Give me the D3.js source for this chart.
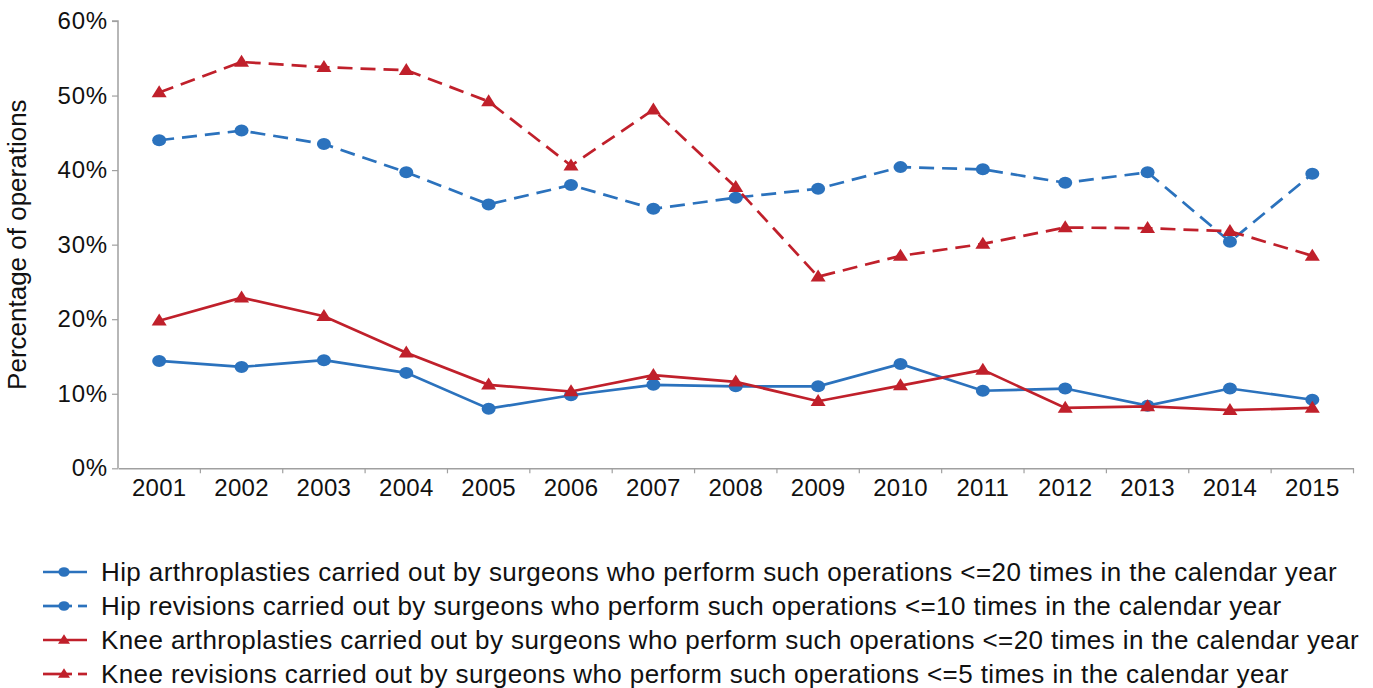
<!DOCTYPE html>
<html>
<head>
<meta charset="utf-8">
<script src="https://cdn.jsdelivr.net/npm/d3@7"></script>
<style>
  body { margin: 0; background: #fff; }
  text { font-family: "Liberation Sans", Arial, sans-serif; fill: #111; }
</style>
</head>
<body>
<div id="chart"></div>
<script>
const years = ['2001', '2002', '2003', '2004', '2005', '2006', '2007', '2008', '2009', '2010', '2011', '2012', '2013', '2014', '2015']
const hipArthro = [14.4, 13.6, 14.5, 12.8, 8.0, 9.8, 11.2, 11.0, 11.0, 14.0, 10.4, 10.7, 8.4, 10.7, 9.2]
const hipRevision = [44.0, 45.3, 43.5, 39.7, 35.4, 38.0, 34.8, 36.3, 37.5, 40.4, 40.1, 38.3, 39.7, 30.4, 39.5]
const kneeArthro = [19.8, 22.9, 20.4, 15.5, 11.2, 10.3, 12.5, 11.6, 9.0, 11.1, 13.2, 8.1, 8.3, 7.8, 8.1]
const kneeRevision = [50.4, 54.5, 53.8, 53.4, 49.2, 40.6, 48.1, 37.7, 25.7, 28.5, 30.1, 32.3, 32.2, 31.8, 28.5]
const yTicks = [0, 10, 20, 30, 40, 50, 60]

const blue = '#2b72bd'
const red = '#c0202b'

const series = [
  { name: 'Hip arthroplasties carried out by surgeons who perform such operations <=20 times in the calendar year', values: hipArthro, color: blue, dashed: false, marker: 'circle' },
  { name: 'Hip revisions carried out by surgeons who perform such operations <=10 times in the calendar year', values: hipRevision, color: blue, dashed: true, marker: 'circle' },
  { name: 'Knee arthroplasties carried out by surgeons who perform such operations <=20 times in the calendar year', values: kneeArthro, color: red, dashed: false, marker: 'triangle' },
  { name: 'Knee revisions carried out by surgeons who perform such operations <=5 times in the calendar year', values: kneeRevision, color: red, dashed: true, marker: 'triangle' }
]

const width = 1373
const height = 688

const svg = d3.select('#chart').append('svg')
  .attr('width', width)
  .attr('height', height)

const x = d3.scaleBand().domain(years).range([118, 1353.5])
const y = d3.scaleLinear().domain([0, 60]).range([468.3, 21])
const axisGrey = '#a0a0a0'

// x axis, labels centred in each year band
const xAxis = svg.append('g')
  .attr('transform', `translate(0,${y(0)})`)
  .call(d3.axisBottom(x).tickSize(0).tickPadding(11))
xAxis.selectAll('text').style('font-size', '24px').style('letter-spacing', '0.3px')
xAxis.select('.domain').attr('stroke', axisGrey).attr('stroke-width', 1.5)
// tick marks sit between the years
svg.append('g').selectAll('line')
  .data(years)
  .enter().append('line')
  .attr('x1', d => x(d) + x.step())
  .attr('x2', d => x(d) + x.step())
  .attr('y1', y(0))
  .attr('y2', y(0) + 5)
  .attr('stroke', axisGrey)
  .attr('stroke-width', 1.2)

const yAxis = svg.append('g')
  .attr('transform', 'translate(118,0)')
  .call(d3.axisLeft(y).tickValues(yTicks).tickFormat(d => d + '%').tickSize(6).tickPadding(4))
yAxis.selectAll('text').style('font-size', '24px').style('letter-spacing', '0.8px')
yAxis.selectAll('line').attr('stroke', axisGrey).attr('stroke-width', 1.2)
yAxis.select('.domain').attr('stroke', axisGrey).attr('stroke-width', 1.5).attr('d', `M-6,${y(60)}H0V${y(0)}`)

svg.append('text')
  .attr('transform', `translate(26,${(y(0) + y(60)) / 2}) rotate(-90)`)
  .attr('text-anchor', 'middle')
  .style('font-size', '26px')
  .text('Percentage of operations')

const line = d3.line()
  .x((d, i) => x(years[i]) + x.bandwidth() / 2)
  .y(d => y(d))

function triPath (w, h) {
  return `M0,${-h * 0.6}L${w / 2},${h * 0.4}L${-w / 2},${h * 0.4}Z`
}

function drawMarker (g, type, color, scale) {
  if (type === 'circle') {
    g.append('ellipse').attr('rx', 7 * scale).attr('ry', 6 * scale).attr('fill', color)
  } else {
    g.append('path').attr('d', triPath(15 * scale, 12 * scale)).attr('fill', color)
  }
}

series.forEach(s => {
  svg.append('path')
    .datum(s.values)
    .attr('d', line)
    .attr('fill', 'none')
    .attr('stroke', s.color)
    .attr('stroke-width', 2.7)
    .attr('stroke-dasharray', s.dashed ? '15,8' : null)
  svg.append('g').selectAll('g')
    .data(s.values)
    .enter().append('g')
    .attr('transform', (d, i) => `translate(${x(years[i]) + x.bandwidth() / 2},${y(d)})`)
    .each(function () { drawMarker(d3.select(this), s.marker, s.color, 1) })
})

// legend
const legend = svg.append('g')
series.forEach((s, i) => {
  const ly = 572 + i * 34
  const g = legend.append('g').attr('transform', `translate(0,${ly})`)
  if (s.dashed) {
    g.append('line').attr('x1', 43).attr('x2', 72).attr('y1', 0).attr('y2', 0).attr('stroke', s.color).attr('stroke-width', 2.7)
    g.append('line').attr('x1', 78).attr('x2', 87).attr('y1', 0).attr('y2', 0).attr('stroke', s.color).attr('stroke-width', 2.7)
  } else {
    g.append('line').attr('x1', 43).attr('x2', 87).attr('y1', 0).attr('y2', 0).attr('stroke', s.color).attr('stroke-width', 2.7)
  }
  const m = g.append('g').attr('transform', 'translate(64,0)')
  drawMarker(m, s.marker, s.color, 0.8)
  g.append('text')
    .attr('x', 101)
    .attr('y', 0)
    .attr('dy', '0.35em')
    .style('font-size', '26px')
    .style('letter-spacing', '0.4px')
    .text(s.name)
})
</script>
</body>
</html>
